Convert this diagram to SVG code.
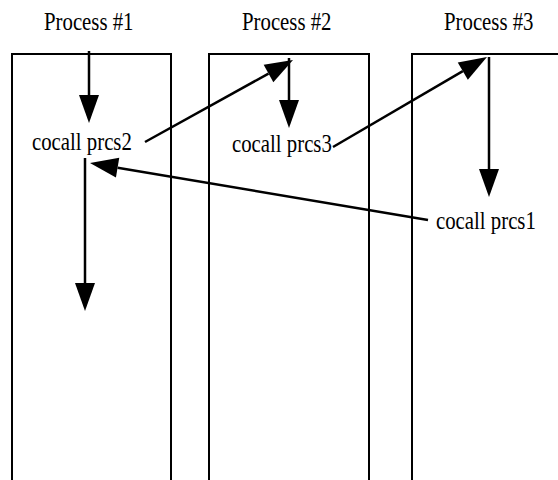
<svg xmlns="http://www.w3.org/2000/svg" width="558" height="480" viewBox="0 0 558 480">
<style>
.box{fill:none;stroke:#000;stroke-width:2}
.lbl{font-family:'Liberation Serif',serif;font-size:26px;fill:#000}
.ar{stroke:#000;stroke-width:2.5;fill:none}
</style>
<defs>
<marker id="ah" markerUnits="userSpaceOnUse" markerWidth="28" markerHeight="20" viewBox="0 0 28 20" refX="0" refY="10" orient="auto" overflow="visible">
<path d="M0,0 L28,10 L0,20 z" fill="#000"/>
</marker>
</defs>
<rect width="558" height="480" fill="#fff"/>
<g id="process1">
<rect class="box" x="12" y="54" width="159" height="440"/>
<text class="lbl" transform="translate(44,30) scale(0.8,1)">Process #1</text>
</g>
<g id="process2">
<rect class="box" x="209" y="54" width="160" height="440"/>
<text class="lbl" transform="translate(242,30) scale(0.8,1)">Process #2</text>
</g>
<g id="process3">
<rect class="box" x="412" y="54" width="200" height="440"/>
<text class="lbl" transform="translate(444,30) scale(0.8,1)">Process #3</text>
</g>
<g id="cocall2">
<text class="lbl" transform="translate(32,150) scale(0.8,1)">cocall prcs2</text>
</g>
<g id="cocall3">
<text class="lbl" transform="translate(232,152) scale(0.8,1)">cocall prcs3</text>
</g>
<g id="cocall1">
<text class="lbl" transform="translate(436,229) scale(0.8,1)">cocall prcs1</text>
</g>
<g id="connectors">
<line class="ar" x1="89" y1="51" x2="89" y2="95" marker-end="url(#ah)"/>
<line class="ar" x1="289" y1="58" x2="289" y2="100" marker-end="url(#ah)"/>
<line class="ar" x1="489" y1="57" x2="489" y2="169" marker-end="url(#ah)"/>
<line class="ar" x1="85" y1="158" x2="85" y2="283" marker-end="url(#ah)"/>
<line class="ar" x1="145" y1="142" x2="268.5" y2="73.6" stroke-width="3" marker-end="url(#ah)"/>
<line class="ar" x1="333" y1="147" x2="462.8" y2="71.1" stroke-width="3" marker-end="url(#ah)"/>
<line class="ar" x1="428" y1="220" x2="117.6" y2="167.7" stroke-width="3" marker-end="url(#ah)"/>
</g>
</svg>
